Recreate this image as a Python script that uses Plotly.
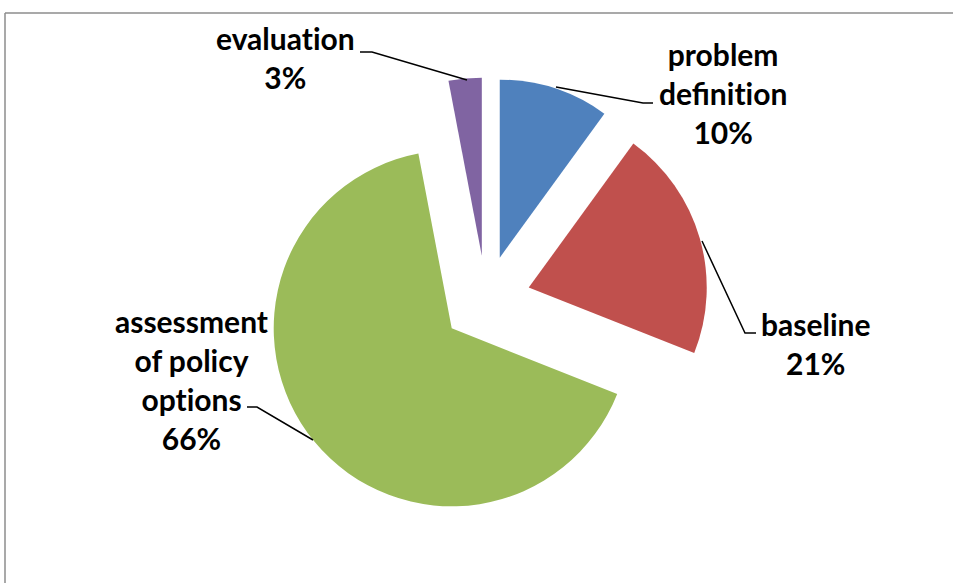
import plotly.graph_objects as go

# Share of effort by stage
categories = ["problem definition", "baseline", "assessment of policy options", "evaluation"]
values = [10, 21, 66, 3]
label_lines = [["problem", "definition"], ["baseline"], ["assessment", "of policy", "options"], ["evaluation"]]
colors = ["#4F81BD", "#C0504D", "#9BBB59", "#8064A2"]

W, H = 953, 583
ZWNJ = "\u200c"  # keeps "t" and "i" as separate glyphs (no ligature)


def px(x, y):
    """Pixel position (from top-left) to paper coordinates."""
    return x / W, 1 - y / H


# Pie box: centre (486, 300) px, radius 178 px, slices pulled out by 0.25 r
pull = 0.25
radius = 178
cx, cy = 486, 300
half = radius * (1 + pull)
x0, _ = px(cx - half, 0)
x1, _ = px(cx + half, 0)
_, y1 = px(0, cy - half)
_, y0 = px(0, cy + half)

fig = go.Figure(
    go.Pie(
        labels=categories,
        values=values,
        sort=False,
        direction="clockwise",
        rotation=0,
        pull=[pull] * len(values),
        marker=dict(colors=colors, line=dict(width=0)),
        textinfo="none",
        hoverinfo="label+percent",
        showlegend=False,
        domain=dict(x=[x0, x1], y=[y0, y1]),
    )
)

# Label block centres (px) and leader-line paths (px)
label_pos = [(723, 93), (815, 343), (191, 379), (285, 58)]
leaders = [
    [(556, 87), (643, 103), (653, 103)],
    [(702, 241), (745, 333), (756, 333)],
    [(313, 440), (257, 407), (247, 407)],
    [(467, 80), (372, 52), (360, 52)],
]

total = sum(values)
for lines, v, (lx, ly) in zip(label_lines, values, label_pos):
    pct = round(100 * v / total)
    shown = [ln.replace("ti", "t" + ZWNJ + "i") for ln in lines]
    text = "<br>".join(shown + [f"{pct}%"])
    ax, ay = px(lx, ly)
    fig.add_annotation(
        x=ax, y=ay, xref="paper", yref="paper",
        text=text, showarrow=False,
        xanchor="center", yanchor="middle", align="center",
        font=dict(family="Lato", size=30, color="#000000", weight="bold"),
    )

for path in leaders:
    pts = [px(x, y) for x, y in path]
    d = "M " + " L ".join(f"{x},{y}" for x, y in pts)
    fig.add_shape(type="path", path=d, xref="paper", yref="paper",
                  line=dict(color="#000000", width=1.5))

# Chart-area frame (top and left edges visible)
fx, fy = px(5, 13)
fig.add_shape(type="line", xref="paper", yref="paper", x0=fx, y0=fy, x1=1.0, y1=fy,
              line=dict(color="#8C8C8C", width=1.5))
fig.add_shape(type="line", xref="paper", yref="paper", x0=fx, y0=fy, x1=fx, y1=0.0,
              line=dict(color="#8C8C8C", width=1.5))

fig.update_layout(
    width=W, height=H,
    margin=dict(l=0, r=0, t=0, b=0),
    paper_bgcolor="#FFFFFF",
    plot_bgcolor="#FFFFFF",
)

fig.write_html("out.html")
